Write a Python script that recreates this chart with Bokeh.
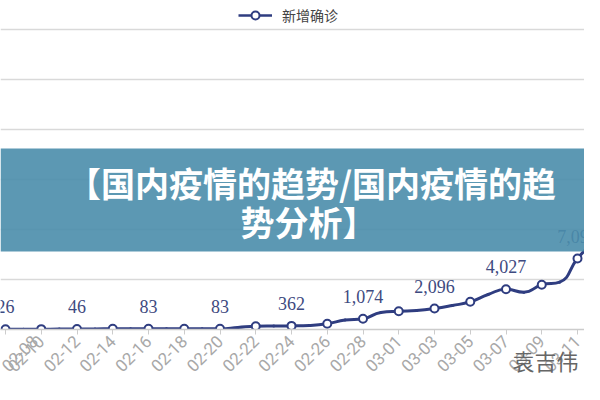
import math
from bokeh.plotting import figure
from bokeh.models import (Range1d, FixedTicker, LabelSet, ColumnDataSource,
                          BoxAnnotation, Label, Legend, LegendItem)
from bokeh.embed import file_html
from bokeh.resources import INLINE

# ---------------- data ----------------
dates = ["02-08", "02-09", "02-10", "02-11", "02-12", "02-13", "02-14", "02-15",
         "02-16", "02-17", "02-18", "02-19", "02-20", "02-21", "02-22", "02-23",
         "02-24", "02-25", "02-26", "02-27", "02-28", "02-29", "03-01", "03-02",
         "03-03", "03-04", "03-05", "03-06", "03-07", "03-08", "03-09", "03-10",
         "03-11", "03-12", "03-13"]
values = [26, 30, 35, 40, 46, 60, 70, 75,
          83, 80, 80, 80, 83, 200, 330, 350,
          362, 400, 570, 950, 1074, 1700, 1830, 1900,
          2096, 2400, 2770, 3500, 4027, 3730, 4470, 4730,
          7097, 9070, 11500]
series_name = "新增确诊"
title_lines = ["【国内疫情的趋势/国内疫情的趋", "势分析】"]
watermark = "袁吉伟"
y_grid_ticks = [5000, 10000, 15000, 20000, 25000, 30000]

# ---------------- layout ----------------
FW, FH = 584, 329
DAY_PX = 17.875
X0 = -5 / DAY_PX
X1 = X0 + FW / DAY_PX
Y0, Y1 = 0, 32900

LINE = "#2f3d80"
LABEL = "#3e4a80"
LATIN = "Roboto"
CJK = "Noto Sans CJK SC"

def xd(fx):
    return X0 + fx * (X1 - X0) / FW

def yd(fy):
    return Y0 + (FH - fy) * (Y1 - Y0) / FH

p = figure(frame_width=FW, frame_height=FH, output_backend="svg", toolbar_location=None,
           x_range=Range1d(X0, X1), y_range=Range1d(Y0, Y1),
           y_axis_location=None,
           min_border_left=0, min_border_right=0, min_border_top=0,
           min_border_bottom=55)
p.outline_line_color = None
p.background_fill_color = "white"
p.xgrid.visible = False
p.ygrid.ticker = FixedTicker(ticks=y_grid_ticks)
p.ygrid.grid_line_color = "#d9d9d9"
p.ygrid.grid_line_width = 1.5

# x axis
tick_idx = [i for i in range(len(dates)) if i % 2 == 0]
p.xaxis.ticker = FixedTicker(ticks=tick_idx)
p.xaxis.major_label_overrides = {i: dates[i] for i in tick_idx}
p.xaxis.major_label_orientation = math.pi / 4
p.xaxis.major_label_text_font = LATIN
p.xaxis.major_label_text_font_size = "17px"
p.xaxis.major_label_text_color = "#a8a8a8"
p.xaxis.major_label_standoff = 4
p.xaxis.axis_line_color = "#cccccc"
p.xaxis.axis_line_width = 1.5
p.xaxis.major_tick_line_color = "#cccccc"
p.xaxis.major_tick_out = 5
p.xaxis.major_tick_in = 0
p.xaxis.minor_tick_line_color = None
# watermark text (drawn as the axis label, pulled up over the tick labels
# and pushed to the right with ideographic spaces)
p.xaxis.axis_label = "\u3000" * 23 + watermark
p.xaxis.axis_label_text_font = CJK
p.xaxis.axis_label_text_font_size = "22px"
p.xaxis.axis_label_text_font_style = "normal"
p.xaxis.axis_label_text_color = "#666666"
p.xaxis.axis_label_standoff = -36

# smooth curve (echarts-like bezier smoothing in pixel space)
SX = FW / (X1 - X0)
SY = FH / (Y1 - Y0)
pts = [(i * SX, v * SY) for i, v in enumerate(values)]
smooth = 0.5
bx0, by0, bx1, by1, bcx0, bcy0, bcx1, bcy1 = ([] for _ in range(8))
cp0 = pts[0]
n = len(pts)
for k in range(1, n):
    x, y = pts[k]
    px_, py_ = pts[k - 1]
    if k == n - 1:
        cp1 = (x, y)
        ncp0 = None
    else:
        nx, ny = pts[k + 1]
        vx, vy = nx - px_, ny - py_
        d0 = math.hypot(x - px_, y - py_)
        d1 = math.hypot(nx - x, ny - y)
        r = d1 / (d0 + d1)
        ncx = x + vx * smooth * r
        ncy = y + vy * smooth * r
        ncx = max(min(ncx, max(nx, x)), min(nx, x))
        ncy = max(min(ncy, max(ny, y)), min(ny, y))
        vx, vy = ncx - x, ncy - y
        c1x = x - vx * d0 / d1
        c1y = y - vy * d0 / d1
        c1x = max(min(c1x, max(px_, x)), min(px_, x))
        c1y = max(min(c1y, max(py_, y)), min(py_, y))
        vx, vy = x - c1x, y - c1y
        ncx = x + vx * d1 / d0
        ncy = y + vy * d1 / d0
        cp1 = (c1x, c1y)
        ncp0 = (ncx, ncy)
    bx0.append(px_ / SX); by0.append(py_ / SY)
    bx1.append(x / SX); by1.append(y / SY)
    bcx0.append(cp0[0] / SX); bcy0.append(cp0[1] / SY)
    bcx1.append(cp1[0] / SX); bcy1.append(cp1[1] / SY)
    cp0 = ncp0

p.bezier(x0=bx0, y0=by0, x1=bx1, y1=by1, cx0=bcx0, cy0=bcy0, cx1=bcx1, cy1=bcy1,
         line_color=LINE, line_width=3, line_cap="round")

sym_src = ColumnDataSource(dict(x=tick_idx, y=[values[i] for i in tick_idx]))
sym = p.scatter("x", "y", source=sym_src, marker="circle", size=8,
                fill_color="white", line_color=LINE, line_width=2)

lab_idx = [i for i in range(len(values)) if i % 4 == 0 and i <= 32]
lab_src = ColumnDataSource(dict(x=lab_idx, y=[values[i] for i in lab_idx],
                                t=["{:,}".format(values[i]) for i in lab_idx]))
p.add_layout(LabelSet(x="x", y="y", text="t", source=lab_src, y_offset=16,
                      text_align="center", text_baseline="alphabetic",
                      text_font=LATIN, text_font_size="18px",
                      text_color=LABEL))

# legend (single-point line draws nothing on the plot, only its legend swatch)
leg_line = p.line(x=[0], y=[values[0]], line_color=LINE, line_width=2.5)
legend = Legend(items=[LegendItem(label=series_name, renderers=[leg_line, sym])],
                location=(238, FH - 25), orientation="horizontal",
                glyph_width=34, glyph_height=20, label_standoff=10,
                padding=0, margin=0, spacing=0,
                background_fill_alpha=0, border_line_alpha=0,
                label_text_font=CJK, label_text_font_size="14px",
                label_text_color="#444444")
p.add_layout(legend, "center")

# banner overlay
p.add_layout(BoxAnnotation(top=yd(148), bottom=yd(251), fill_color="#4a8dab",
                           fill_alpha=0.9, line_alpha=0))
p.add_layout(Label(x=xd(311), y=yd(182), text=title_lines[0], text_color="white",
                   text_font=CJK, text_font_style="bold",
                   text_font_size="34px", text_align="center", text_baseline="middle"))
p.add_layout(Label(x=xd(308), y=yd(221), text=title_lines[1], text_color="white",
                   text_font=CJK, text_font_style="bold",
                   text_font_size="34px", text_align="center", text_baseline="middle"))

open("out.html", "w").write(file_html(p, INLINE))
